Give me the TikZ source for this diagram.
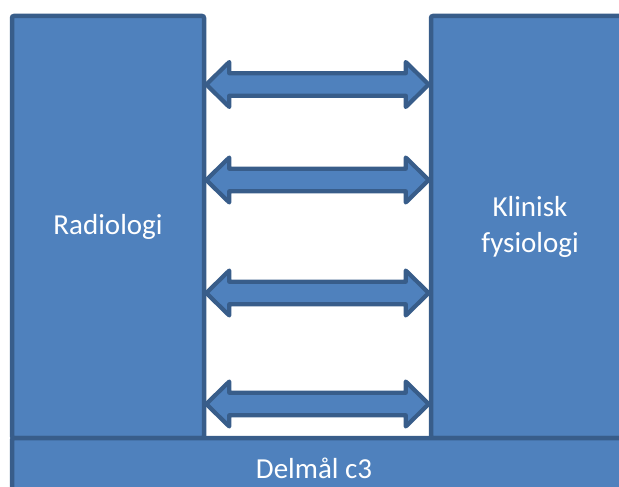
\documentclass[tikz,border=0pt]{standalone}
\usepackage{fontspec}
\setmainfont{Carlito}
\usepackage{xcolor}
\usepackage{tikz}
\usetikzlibrary{calc}

\definecolor{boxfill}{HTML}{4F81BD}
\definecolor{boxline}{HTML}{385D8A}

\begin{document}
\begin{tikzpicture}[
  x=0.5pt, y=-0.5pt,
  field/.style={rectangle, rounded corners=1pt, draw=boxline, fill=boxfill, line width=2.25pt, text=white, align=center, font=\fontsize{14.5}{17.7}\selectfont},
  blockarrow/.style={draw=boxline, fill=boxfill, line width=2.1pt, line join=round}
]
\useasboundingbox (0,0) rectangle (619,486);
\clip (0,0) rectangle (619,486);

\node (rad) [field, minimum width=96pt, minimum height=211pt] at (108,227) {Radiologi};
\node (klin) [field, minimum width=99pt, minimum height=211pt] at (530,227) {Klinisk\\fysiologi};
\node (bar) [field, minimum width=324pt, minimum height=41pt] at (336,479) {};
\node (goal) [text=white, font=\fontsize{14.5}{17.7}\selectfont] at (314,468) {Delmål c3};

% double block arrows between the two fields
\foreach \y in {84.5,180,293,404} {
  \coordinate (a) at (rad.east |- 0,\y);
  \coordinate (b) at (klin.west |- 0,\y);
  \draw [blockarrow] (a) -- ++(23,-22.5) -- ++(0,11.3) -- ($(b)+(-23,-11.2)$) -- ++(0,-11.3) -- (b)
    -- ++(-23,22.5) -- ++(0,-11.3) -- ($(a)+(23,11.2)$) -- ++(0,11.3) -- cycle;
}
\end{tikzpicture}
\end{document}
